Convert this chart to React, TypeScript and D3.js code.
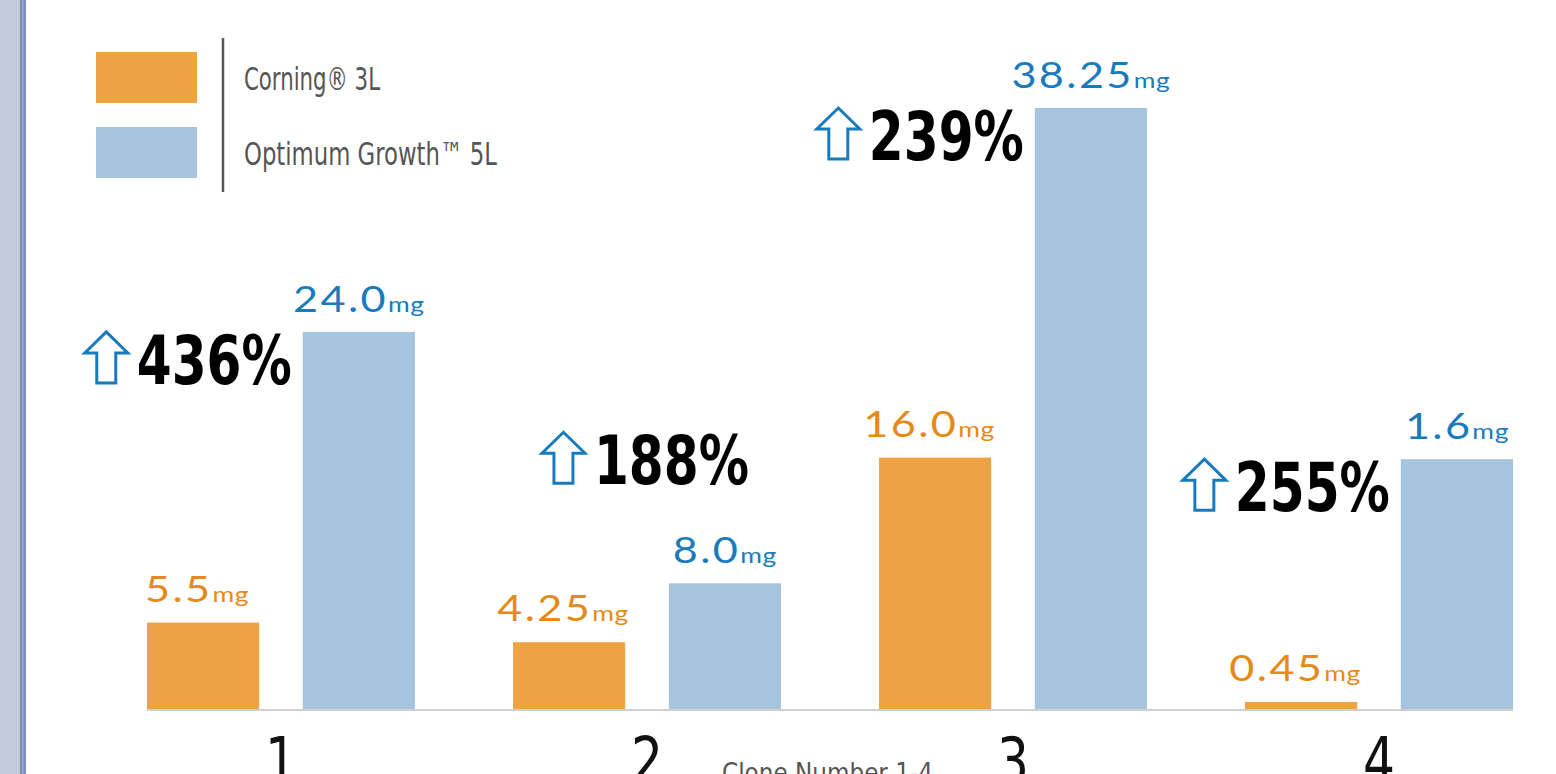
import React from 'react';
import * as d3 from 'd3';

const clones = ['1', '2', '3', '4'];
const seriesKeys = ['corning', 'optimum'];
const seriesNames = ['Corning® 3L', 'Optimum Growth™ 5L'];
// bar heights as drawn in the picture (clone 4 blue bar is drawn far taller than its 1.6mg label)
const corningValues = [5.5, 4.25, 16.0, 0.45];
const optimumValues = [24.0, 8.0, 38.25, 15.9];
const corningLabels = ['5.5', '4.25', '16.0', '0.45'];
const optimumLabels = ['24.0', '8.0', '38.25', '1.6'];
const increaseLabels = ['436%', '188%', '239%', '255%'];

const W = 1556;
const H = 774;
const ORANGE = '#eda243';
const BLUE = '#a6c4de';
const ORANGE_TEXT = '#e58a17';
const BLUE_TEXT = '#1a7bbc';
const NARROW = '"DejaVu Sans", sans-serif';
const LABEL_FONT = 'Lato, "DejaVu Sans", sans-serif';

const x0 = d3.scaleBand<string>().domain(clones).range([147, 1513]).paddingInner(0.268).paddingOuter(0);
const x1 = d3.scaleBand<string>().domain(seriesKeys).range([0, x0.bandwidth()]).paddingInner(0.28);
const y = d3.scaleLinear().domain([0, 38.25]).range([709, 108]);

const UpArrow: React.FC<{ x: number; y: number }> = ({ x, y }) => {
  // outline arrow, 45 wide, 52 tall, top-left at (x, y)
  const p = d3.path();
  p.moveTo(x + 22.5, y);
  p.lineTo(x + 44, y + 21);
  p.lineTo(x + 32, y + 21);
  p.lineTo(x + 32, y + 51);
  p.lineTo(x + 13, y + 51);
  p.lineTo(x + 13, y + 21);
  p.lineTo(x + 1, y + 21);
  p.closePath();
  return <path d={p.toString()} fill="none" stroke={BLUE_TEXT} strokeWidth={3} strokeLinejoin="miter" />;
};

// widened a little to mimic the geometric face of the original
const ValueLabel: React.FC<{ cx: number; base: number; value: string; color: string }> = ({ cx, base, value, color }) => (
  <text transform={`translate(${cx},${base}) scale(1.2,1)`} textAnchor="middle" fill={color} fontFamily={LABEL_FONT}>
    <tspan fontSize={36} letterSpacing={2}>{value}</tspan>
    <tspan fontSize={22} letterSpacing={0.5}>mg</tspan>
  </text>
);

export default function App() {
  return (
    <svg width={W} height={H} style={{ position: 'absolute', left: 0, top: 0, background: '#fff' }}>
      {/* left frame band */}
      <rect x={0} y={0} width={20} height={H} fill="#c3cad9" />
      <rect x={20} y={0} width={6} height={H} fill="#7d8db6" />
      <rect x={22} y={0} width={1.5} height={H} fill="#9aa8c9" />

      {/* legend */}
      <g>
        {seriesKeys.map((k, i) => (
          <g key={k}>
            <rect x={96} y={52 + i * 75} width={101} height={51} fill={i === 0 ? ORANGE : BLUE} />
            <text
              x={244}
              y={90 + i * 75}
              fontFamily={NARROW}
              fontSize={32}
              fill="#555"
              textLength={i === 0 ? 136 : 253}
              lengthAdjust="spacingAndGlyphs"
            >
              {seriesNames[i]}
            </text>
          </g>
        ))}
        <line x1={223} x2={223} y1={38} y2={192} stroke="#555" strokeWidth={2.5} />
      </g>

      {/* baseline */}
      <line x1={147} x2={1513} y1={710} y2={710} stroke="#cfcfcf" strokeWidth={2} />

      {/* bars */}
      {clones.map((c, i) => {
        const gx = x0(c)!;
        const vals = [corningValues[i], optimumValues[i]];
        return (
          <g key={c} transform={`translate(${gx},0)`}>
            {seriesKeys.map((k, j) => (
              <rect
                key={k}
                x={x1(k)!}
                y={y(vals[j])}
                width={x1.bandwidth()}
                height={y(0) - y(vals[j])}
                fill={j === 0 ? ORANGE : BLUE}
              />
            ))}
          </g>
        );
      })}

      {/* value labels */}
      {clones.map((c, i) => {
        const gx = x0(c)!;
        const bw = x1.bandwidth();
        return (
          <g key={'lbl' + c}>
            <ValueLabel cx={gx + x1('corning')! + bw / 2 - 6} base={y(corningValues[i]) - 21} value={corningLabels[i]} color={ORANGE_TEXT} />
            <ValueLabel cx={gx + x1('optimum')! + bw / 2} base={y(optimumValues[i]) - 20} value={optimumLabels[i]} color={BLUE_TEXT} />
          </g>
        );
      })}

      {/* increase annotations */}
      {clones.map((c, i) => {
        const bx = x0(c)! + x1('optimum')!;
        const top = y(optimumValues[i]);
        // clone 2 annotation sits above its bars; the others hang left of the blue bar
        const right = i === 1 ? bx + x1.bandwidth() - 32 : bx - 11;
        const base = i === 1 ? top - 99 : top + 52;
        return (
          <g key={'inc' + c}>
            <text
              x={right - 155}
              y={base}
              fontFamily={NARROW}
              fontWeight="bold"
              fontSize={68}
              fill="#000"
              textLength={155}
              lengthAdjust="spacingAndGlyphs"
            >
              {increaseLabels[i]}
            </text>
            <UpArrow x={right - 208} y={base - 52} />
          </g>
        );
      })}

      {/* clone numbers */}
      {clones.map((c) => (
        <text
          key={'x' + c}
          x={x0(c)! + x0.bandwidth() / 2 - 16}
          y={783}
          fontFamily={NARROW}
          fontSize={64}
          fill="#111"
          textLength={32}
          lengthAdjust="spacingAndGlyphs"
        >
          {c}
        </text>
      ))}
      <text x={722} y={782} fontFamily={NARROW} fontSize={27} fill="#555" textLength={211} lengthAdjust="spacingAndGlyphs">
        Clone Number 1-4
      </text>
    </svg>
  );
}
